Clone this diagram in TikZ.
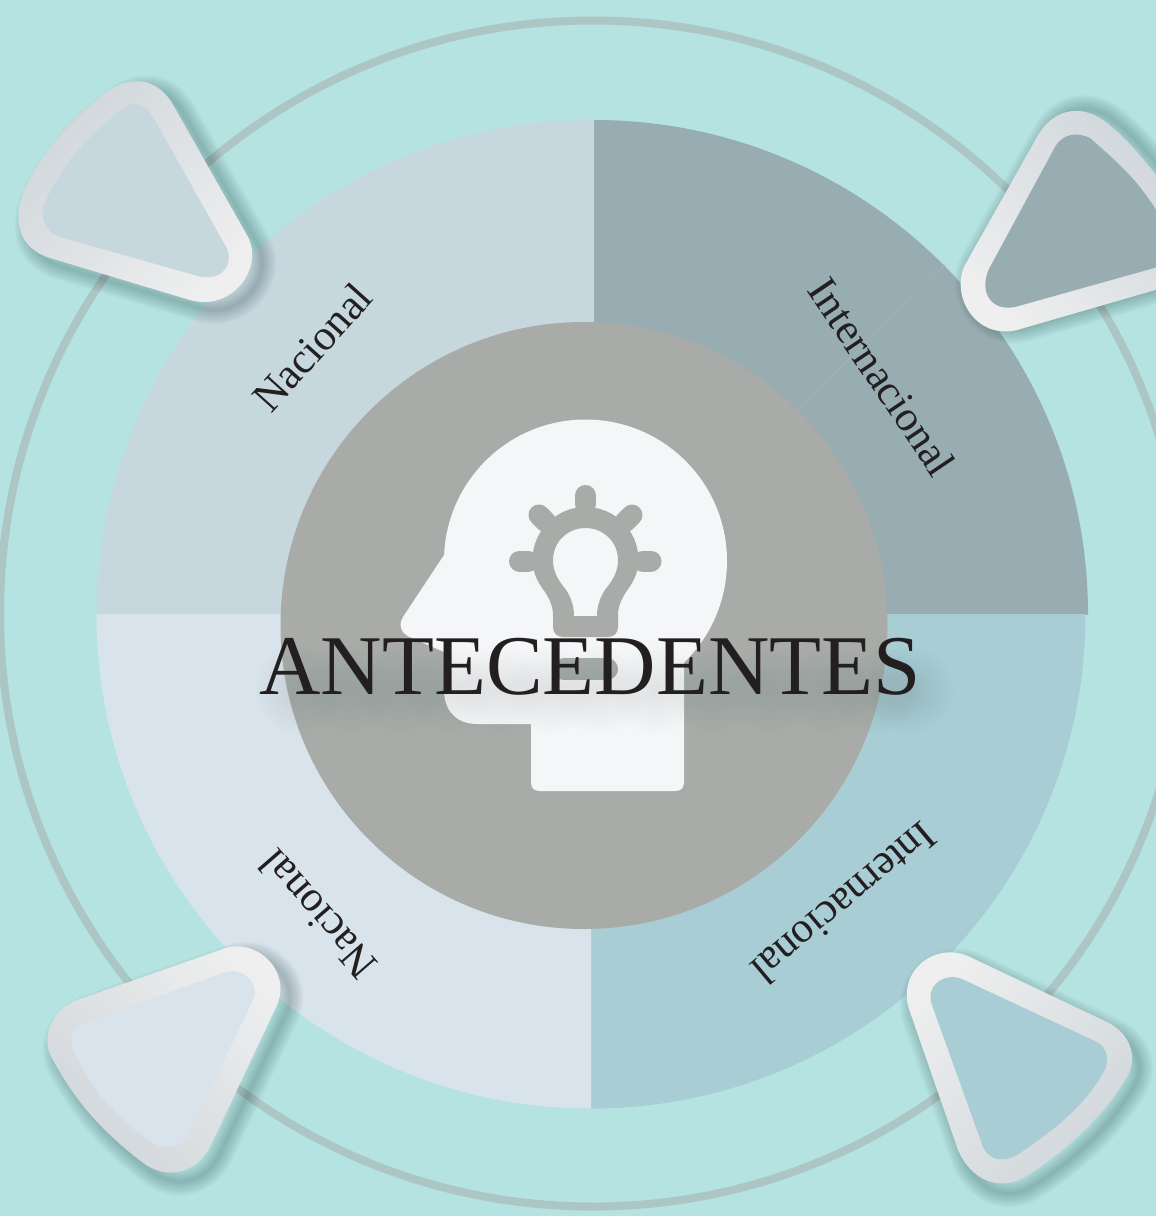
\documentclass[tikz,border=0pt]{standalone}
\usepackage{fontspec}
\setmainfont{Liberation Serif}
\definecolor{bgc}{HTML}{B4E3E1}
\definecolor{ringc}{HTML}{ABC6C5}
\definecolor{tlc}{HTML}{C6D7DE}
\definecolor{trc}{HTML}{97ADB2}
\definecolor{brc}{HTML}{A9CDD4}
\definecolor{blc}{HTML}{D9E3EB}
\definecolor{midc}{HTML}{A9ABA8}
\definecolor{headc}{HTML}{F4F6F8}
\definecolor{inkc}{HTML}{231F20}
\definecolor{bandlight}{HTML}{EFEFEF}
\definecolor{banddark}{HTML}{CFD6DA}
\definecolor{shadowc}{HTML}{1F3A40}
\def\tlouter{(172,103) -- (248,237) .. controls (264,268) and (232,312) .. (190,300) -- (50,258) .. controls (20,249) and (12,222) .. (23,193) .. controls (40,155) and (65,125) .. (100,97) .. controls (125,75) and (155,75) .. (172,103) -- cycle}
\def\tlinner{(153,117) -- (225,245) .. controls (236,262) and (222,283) .. (198,276) -- (60,237) .. controls (44,232) and (38,215) .. (47,198) .. controls (65,160) and (90,135) .. (123,108) .. controls (135,100) and (145,105) .. (153,117) -- cycle}
\def\trouter{(1037,137) -- (965,265) .. controls (950,295) and (975,340) .. (1017,330) -- (1190,280) -- (1190,215) -- (1156,175) .. controls (1140,155) and (1125,137) .. (1107,123) .. controls (1085,105) and (1055,105) .. (1037,137) -- cycle}
\def\trinner{(1055,147) -- (990,267) .. controls (978,290) and (990,312) .. (1015,307) -- (1190,258) -- (1190,260) -- (1156,210) .. controls (1138,180) and (1115,160) .. (1090,138) .. controls (1078,132) and (1063,133) .. (1055,147) -- cycle}
\def\brouter{(970,957) -- (1107,1022) .. controls (1130,1033) and (1140,1058) .. (1125,1080) .. controls (1100,1120) and (1065,1152) .. (1023,1178) .. controls (1000,1190) and (972,1182) .. (958,1150) -- (910,1012) .. controls (895,972) and (935,940) .. (970,957) -- cycle}
\def\brinner{(962,979) -- (1097,1042) .. controls (1108,1048) and (1110,1062) .. (1103,1073) .. controls (1085,1105) and (1055,1130) .. (1017,1155) .. controls (1005,1162) and (990,1162) .. (983,1147) -- (932,1005) .. controls (925,985) and (945,972) .. (962,979) -- cycle}
\def\blouter{(220,950) -- (77,1000) .. controls (50,1010) and (40,1040) .. (53,1060) .. controls (75,1100) and (100,1130) .. (142,1162) .. controls (165,1180) and (195,1175) .. (210,1147) -- (277,1005) .. controls (292,970) and (255,935) .. (220,950) -- cycle}
\def\blinner{(223,973) -- (80,1025) .. controls (70,1030) and (68,1045) .. (77,1057) .. controls (95,1095) and (120,1120) .. (153,1143) .. controls (165,1150) and (180,1150) .. (188,1135) -- (252,1002) .. controls (262,985) and (243,965) .. (223,973) -- cycle}
\newcommand{\softshadow}[3]{%
  \begin{scope}[shift={(#2,#3)}]
    \foreach \w in {2,4,...,28}
      \draw[shadowc, draw opacity=0.018, line width=\w pt, line join=round] #1;
  \end{scope}}
\tikzset{
  ringline/.style={draw=ringc, line width=8pt},
  label/.style={text=inkc, font=\fontsize{43}{43}\selectfont, inner sep=0pt, anchor=base},
  bulbline/.style={draw=midc, line width=21pt, line cap=round},
}
\begin{document}
\begin{tikzpicture}[x=1pt,y=-1pt]
\useasboundingbox (0,0) rectangle (1156,1216);
\clip (0,0) rectangle (1156,1216);
\fill[bgc] (0,0) rectangle (1156,1216);
\draw[ringline] (593,613.5) circle[radius=593pt];
% quadrants
\begin{scope}\clip (594,100) rectangle (1120,614); \fill[trc] (594,614) circle[radius=494pt]; \end{scope}
\begin{scope}\clip (80,100) rectangle (594,614); \fill[tlc] (591,614) circle[radius=494pt]; \end{scope}
\begin{scope}\clip (591,614) rectangle (1120,1130); \fill[brc] (591,614) circle[radius=494.5pt]; \end{scope}
\begin{scope}\clip (80,614) rectangle (591,1130); \fill[blc] (591,614) circle[radius=494.5pt]; \end{scope}
\draw[draw=trc!88!white, line width=0.5pt] (945,265) -- (797,410);
% badges
\softshadow{\tlouter}{10}{8}
\softshadow{\trouter}{8}{-2}
\softshadow{\brouter}{7}{10}
\softshadow{\blouter}{9}{9}
\shade[left color=banddark, right color=bandlight, shading angle=45] \tlouter;
\fill[tlc] \tlinner;
\shade[left color=banddark, right color=bandlight, shading angle=-45] \trouter;
\fill[trc] \trinner;
\shade[left color=bandlight, right color=banddark, shading angle=45] \brouter;
\fill[brc] \brinner;
\shade[left color=bandlight, right color=banddark, shading angle=-45] \blouter;
\fill[blc] \blinner;
% centre disc
\fill[midc] (584,625.5) circle[radius=303.5pt];
% head
\fill[headc] (585.5,561) circle[radius=141.5pt];
\fill[headc] (444,555) -- (403,617) .. controls (397,627) and (403,635) .. (412,638) -- (444,652) -- (444,690) .. controls (444,710) and (456,724) .. (477,724) -- (531,724) -- (531,782) .. controls (531,788) and (534,791) .. (540,791) -- (675,791) .. controls (681,791) and (684,788) .. (684,782) -- (684,600) -- (600,500) -- cycle;
% bulb
\fill[midc, even odd rule]
  (553,627) .. controls (553,633) and (557,637) .. (563,637) -- (608,637) .. controls (614,637) and (618,633) .. (618,627) -- (618,615) .. controls (618,607) and (621,600) .. (626,592) .. controls (631,585) and (638.5,575) .. (638.5,560) .. controls (638.5,530.7) and (614.8,507) .. (585.5,507) .. controls (556.2,507) and (532.5,530.7) .. (532.5,560) .. controls (532.5,575) and (540,585) .. (545,592) .. controls (550,600) and (553,607) .. (553,615) -- cycle
  (618,560) .. controls (618,542) and (603.5,528) .. (585.5,528) .. controls (567.5,528) and (553,542) .. (553,560) .. controls (553,572) and (558,579) .. (563,586) .. controls (570,594) and (574,605) .. (574,616) -- (597,616) .. controls (597,605) and (601,594) .. (608,586) .. controls (613,579) and (618,572) .. (618,560) -- cycle;
\draw[bulbline] (585.5,495.5) -- (585.5,504);
\draw[bulbline] (519.5,561) -- (528,561);
\draw[bulbline] (651,561) -- (643,561);
\draw[bulbline] (539,515) -- (546,522);
\draw[bulbline] (632,515) -- (625,522);
\draw[bulbline, line width=22pt] (564,669) -- (607,669);
% title shadow
\foreach \cx in {300,350,400,450,500,550,600,655,712,770,825,875,910}
  \foreach \t in {0.1,0.2,...,1.0}
    \fill[shadowc, fill opacity=0.008] (\cx,690) ellipse[x radius=\t*44pt, y radius=\t*44pt];
% labels
\node[text=inkc, font=\fontsize{85}{85}\selectfont, inner sep=0pt, anchor=base] (title) at (590,694) {ANTECEDENTES};
\node[label, rotate=48] (lbltl) at (323,357) {Nacional};
\node[label, rotate=-56] (lbltr) at (870,385) {Internacional};
\node[label, rotate=131] (lblbl) at (329,905) {Nacional};
\node[label, rotate=220] (lblbr) at (835,892) {Internacional};
\end{tikzpicture}
\end{document}
